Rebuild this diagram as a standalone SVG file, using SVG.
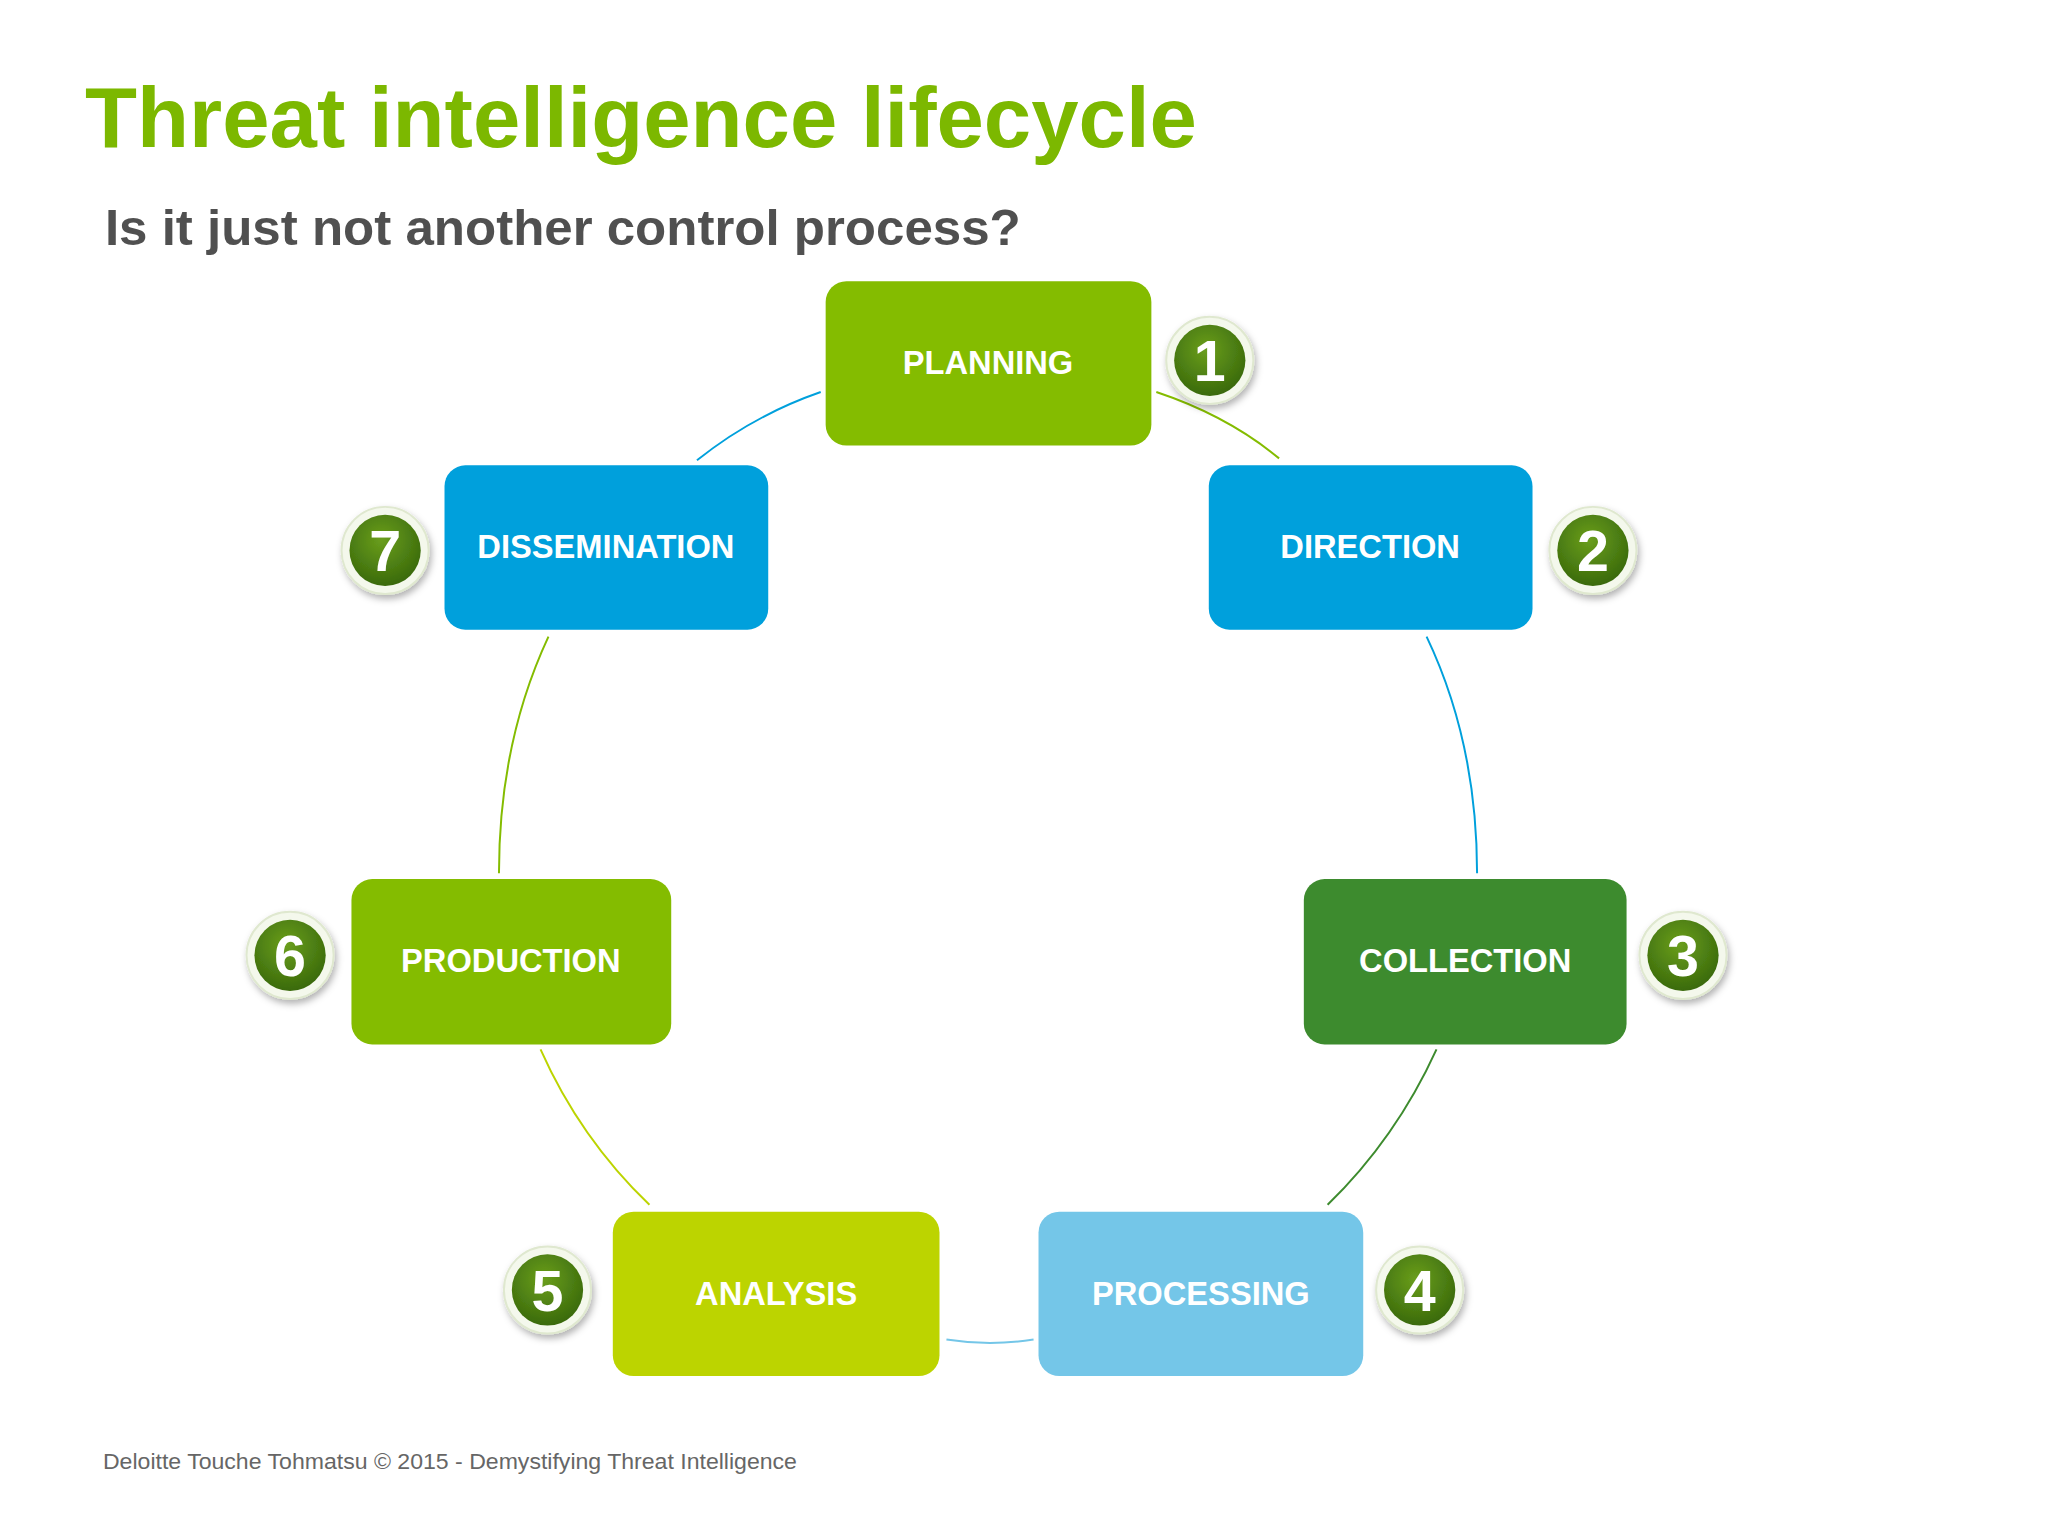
<svg xmlns="http://www.w3.org/2000/svg" width="2048" height="1536" viewBox="0 0 2048 1536">
<defs>
<radialGradient id="bg" cx="45%" cy="35%" r="65%"><stop offset="0" stop-color="#6a9e1c"/><stop offset="1" stop-color="#3a6a0c"/></radialGradient>
<filter id="sh" x="-30%" y="-30%" width="160%" height="160%"><feDropShadow dx="2" dy="4" stdDeviation="4" flood-color="#000" flood-opacity="0.3"/></filter>
</defs>
<style>
.box{rx:21px}
.lbl{font-family:"Liberation Sans",Arial,sans-serif;font-weight:bold;font-size:33px;fill:#fff;text-anchor:middle}
.num{font-family:"Liberation Sans",Arial,sans-serif;font-weight:bold;font-size:58px;fill:#fff;text-anchor:middle}
.rim{fill:#f4f8ec;stroke:#dfe8cf;stroke-width:2}
.con{fill:none;stroke-width:2}
</style>
<rect width="2048" height="1536" fill="#fff"/>
<g transform="scale(0.99)">
<text x="86" y="148" font-family="Liberation Sans,Arial,sans-serif" font-weight="bold" font-size="86" fill="#7cb800" textLength="1123" lengthAdjust="spacingAndGlyphs">Threat intelligence lifecycle</text>
<text x="106" y="247" font-family="Liberation Sans,Arial,sans-serif" font-weight="bold" font-size="50" fill="#505050" textLength="925" lengthAdjust="spacingAndGlyphs">Is it just not another control process?</text>
<text x="104" y="1484" font-family="Liberation Sans,Arial,sans-serif" font-size="22" fill="#666" textLength="701" lengthAdjust="spacingAndGlyphs">Deloitte Touche Tohmatsu © 2015 - Demystifying Threat Intelligence</text>
<g id="connectors">
<path class="con" stroke="#84bc00" d="M1168,396 Q1240,420 1292,463"/>
<path class="con" stroke="#00a0dc" d="M1441,643 Q1492,750 1492,882"/>
<path class="con" stroke="#3d8b2e" d="M1451,1060 Q1410,1150 1341,1217"/>
<path class="con" stroke="#74c6e8" d="M1044,1353 Q1000,1360 956,1353"/>
<path class="con" stroke="#bcd400" d="M656,1217 Q586,1150 546,1060"/>
<path class="con" stroke="#84bc00" d="M504,882 Q504,750 554,643"/>
<path class="con" stroke="#00a0dc" d="M704,465 Q760,420 829,396"/>
</g>
<g id="planning"><rect class="box" x="834" y="284" width="329" height="166" fill="#84bc00"/><text class="lbl" x="998" y="378">PLANNING</text></g>
<g id="direction"><rect class="box" x="1221" y="470" width="327" height="166" fill="#00a0dc"/><text class="lbl" x="1384" y="564">DIRECTION</text></g>
<g id="collection"><rect class="box" x="1317" y="888" width="326" height="167" fill="#3d8b2e"/><text class="lbl" x="1480" y="982">COLLECTION</text></g>
<g id="processing"><rect class="box" x="1049" y="1224" width="328" height="166" fill="#74c6e8"/><text class="lbl" x="1213" y="1318">PROCESSING</text></g>
<g id="analysis"><rect class="box" x="619" y="1224" width="330" height="166" fill="#bcd400"/><text class="lbl" x="784" y="1318">ANALYSIS</text></g>
<g id="production"><rect class="box" x="355" y="888" width="323" height="167" fill="#84bc00"/><text class="lbl" x="516" y="982">PRODUCTION</text></g>
<g id="dissemination"><rect class="box" x="449" y="470" width="327" height="166" fill="#00a0dc"/><text class="lbl" x="612" y="564">DISSEMINATION</text></g>
<g id="badge1" filter="url(#sh)"><circle class="rim" cx="1222" cy="364" r="44"/><circle cx="1222" cy="364" r="36" fill="url(#bg)"/><text class="num" x="1222" y="385">1</text></g>
<g id="badge2" filter="url(#sh)"><circle class="rim" cx="1609" cy="556" r="44"/><circle cx="1609" cy="556" r="36" fill="url(#bg)"/><text class="num" x="1609" y="577">2</text></g>
<g id="badge3" filter="url(#sh)"><circle class="rim" cx="1700" cy="965" r="44"/><circle cx="1700" cy="965" r="36" fill="url(#bg)"/><text class="num" x="1700" y="986">3</text></g>
<g id="badge4" filter="url(#sh)"><circle class="rim" cx="1434" cy="1303" r="44"/><circle cx="1434" cy="1303" r="36" fill="url(#bg)"/><text class="num" x="1434" y="1324">4</text></g>
<g id="badge5" filter="url(#sh)"><circle class="rim" cx="553" cy="1303" r="44"/><circle cx="553" cy="1303" r="36" fill="url(#bg)"/><text class="num" x="553" y="1324">5</text></g>
<g id="badge6" filter="url(#sh)"><circle class="rim" cx="293" cy="965" r="44"/><circle cx="293" cy="965" r="36" fill="url(#bg)"/><text class="num" x="293" y="986">6</text></g>
<g id="badge7" filter="url(#sh)"><circle class="rim" cx="389" cy="556" r="44"/><circle cx="389" cy="556" r="36" fill="url(#bg)"/><text class="num" x="389" y="577">7</text></g>
</g>
</svg>
